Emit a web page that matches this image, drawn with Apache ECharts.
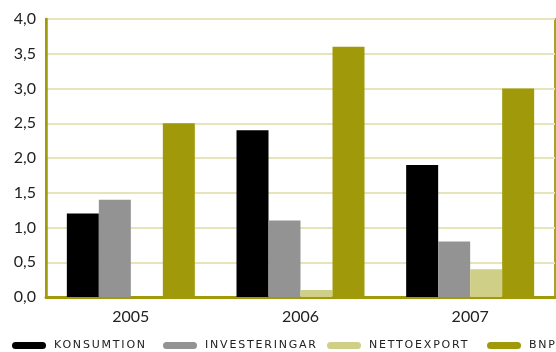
<!DOCTYPE html>
<html><head><meta charset="utf-8">
<script src="https://cdn.jsdelivr.net/npm/echarts@6/dist/echarts.min.js"></script>
<style>html,body{margin:0;padding:0;background:#fff}#c{width:556px;height:352px}</style>
</head><body><div id="c"></div>
<script>
const categories = ['2005', '2006', '2007'];
const seriesNames = ['KONSUMTION', 'INVESTERINGAR', 'NETTOEXPORT', 'BNP'];
const konsumtion = [1.2, 2.4, 1.9];
const investeringar = [1.4, 1.1, 0.8];
const nettoexport = [0.0, 0.1, 0.4];
const bnp = [2.5, 3.6, 3.0];
const colors = ['#000000', '#939393', '#cfcf88', '#a09a0a'];
const legendLefts = [12, 163, 327, 487];

// letter-spaced legend text (only for the legend font)
(function () {
  const P = CanvasRenderingContext2D.prototype;
  const orig = P.fillText;
  P.fillText = function (t, x, y, m) {
    if (this.font && this.font.indexOf('DejaVu Sans') >= 0 && 'letterSpacing' in this) {
      const prev = this.letterSpacing;
      this.letterSpacing = '1.8px';
      orig.call(this, t, x, y, m);
      this.letterSpacing = prev;
      return;
    }
    return orig.call(this, t, x, y, m);
  };
})();

const values = [konsumtion, investeringar, nettoexport, bnp];
const chart = echarts.init(document.getElementById('c'), null, {renderer: 'canvas'});
const olive = '#a09a0a';
chart.setOption({
  animation: false,
  grid: {left: 46, right: 1, top: 19, bottom: 55, show: true, borderColor: olive, borderWidth: 1.8, backgroundColor: 'transparent'},
  legend: seriesNames.map((n, i) => ({
    data: [n], left: legendLefts[i], bottom: 1, padding: 0, itemWidth: 34, itemHeight: 7,
    icon: 'path://M3.5,0 H30.5 A3.5,3.5 0 0 1 30.5,7 H3.5 A3.5,3.5 0 0 1 3.5,0 Z',
    itemGap: 0,
    textStyle: {fontFamily: 'DejaVu Sans', fontSize: 11, color: '#222', padding: [0, 0, 0, 3]}
  })),
  xAxis: {
    type: 'category', data: categories,
    axisLine: {lineStyle: {color: olive, width: 3}},
    axisTick: {show: false},
    axisLabel: {fontFamily: 'Lato', fontSize: 16, color: '#222', margin: 12}
  },
  yAxis: {
    type: 'value', min: 0, max: 4, interval: 0.5,
    axisLine: {show: true, lineStyle: {color: olive, width: 2.5}},
    axisTick: {show: false},
    splitLine: {lineStyle: {color: '#e6e4bb', width: 2}},
    axisLabel: {fontFamily: 'Lato', fontSize: 16, color: '#222', margin: 10,
      formatter: v => v.toFixed(1).replace('.', ',')}
  },
  series: seriesNames.map((n, i) => ({
    name: n, type: 'bar', data: values[i], barWidth: 32, barGap: '0%',
    itemStyle: {color: colors[i]}
  }))
});
</script></body></html>
